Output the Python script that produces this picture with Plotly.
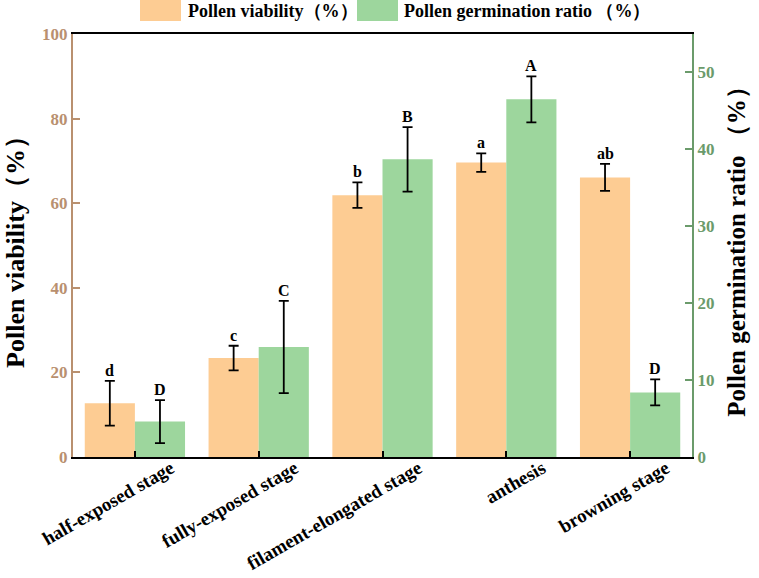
import plotly.graph_objects as go

categories = ["half-exposed stage", "fully-exposed stage", "filament-elongated stage", "anthesis", "browning stage"]
viability = [12.7, 23.4, 61.9, 69.6, 66.1]
viability_err = [5.3, 2.9, 3.0, 2.2, 3.2]
viability_letters = ["d", "c", "b", "a", "ab"]
germination = [4.6, 14.3, 38.7, 46.5, 8.4]
germination_err = [2.8, 6.0, 4.2, 3.0, 1.7]
germination_letters = ["D", "C", "B", "A", "D"]

ORANGE = "#fdcc93"
GREEN = "#9dd69d"
BROWN = "#b9906f"
DGREEN = "#6b9b6b"
FONT = "Liberation Serif"

W, H = 759, 578
L, R, T, B = 73, 67, 34, 121
PW, PH = W - L - R, H - T - B

def px(x):
    return (x - L) / PW

def py(y):
    return (H - B - y) / PH

fig = go.Figure()
fig.add_trace(go.Bar(
    x=categories, y=viability, name="Pollen viability（%）",
    marker=dict(color=ORANGE, line=dict(width=0)),
    width=0.405, offset=-0.405,
    error_y=dict(type="data", array=viability_err, color="black", thickness=1.8, width=5),
    yaxis="y", showlegend=False,
))
fig.add_trace(go.Bar(
    x=categories, y=germination, name="Pollen germination ratio （%）",
    marker=dict(color=GREEN, line=dict(width=0)),
    width=0.405, offset=0,
    error_y=dict(type="data", array=germination_err, color="black", thickness=1.8, width=5),
    yaxis="y2", showlegend=False,
))

annotations = []
for c, v, e, t in zip(categories, viability, viability_err, viability_letters):
    annotations.append(dict(x=c, y=v + e, xref="x", yref="y", text=f"<b>{t}</b>",
                            showarrow=False, xshift=-25, yanchor="bottom", yshift=0,
                            font=dict(family=FONT, size=16, color="black")))
for c, v, e, t in zip(categories, germination, germination_err, germination_letters):
    annotations.append(dict(x=c, y=v + e, xref="x", yref="y2", text=f"<b>{t}</b>",
                            showarrow=False, xshift=25, yanchor="bottom", yshift=0,
                            font=dict(family=FONT, size=16, color="black")))

# legend drawn manually (wide swatches like the reference)
shapes = [
    dict(type="rect", xref="paper", yref="paper", x0=px(140), x1=px(181), y0=py(21), y1=py(0),
         fillcolor=ORANGE, line=dict(width=0)),
    dict(type="rect", xref="paper", yref="paper", x0=px(357), x1=px(398), y0=py(21), y1=py(0),
         fillcolor=GREEN, line=dict(width=0)),
]
annotations.append(dict(x=px(186), y=py(11), xref="paper", yref="paper", xanchor="left", yanchor="middle",
                        text="<b>Pollen viability（%）</b>", showarrow=False,
                        font=dict(family=FONT, size=18, color="black")))
annotations.append(dict(x=px(402), y=py(11), xref="paper", yref="paper", xanchor="left", yanchor="middle",
                        text="<b>Pollen germination ratio （%）</b>", showarrow=False,
                        font=dict(family=FONT, size=18, color="black")))

fig.update_layout(
    width=W, height=H,
    margin=dict(l=L, r=R, t=T, b=B),
    paper_bgcolor="white", plot_bgcolor="white",
    barmode="overlay",
    font=dict(family=FONT, color="black"),
    xaxis=dict(
        type="category", range=[-0.5, 4.5], automargin=False,
        showline=True, linecolor="black", linewidth=2, mirror=True,
        ticks="inside", ticklen=6, tickcolor="black", tickwidth=2,
        tickangle=-30, ticklabelshift=36, ticklabelstandoff=-9,
        tickfont=dict(family=FONT, size=19, color="black", weight="bold"),
        showgrid=False, zeroline=False,
    ),
    yaxis=dict(
        range=[0, 100], tickvals=[0, 20, 40, 60, 80, 100], automargin=False,
        showline=True, linecolor=BROWN, linewidth=2,
        ticks="inside", ticklen=7, tickcolor=BROWN, tickwidth=2,
        tickfont=dict(family=FONT, size=17, color=BROWN, weight="bold"),
        title=dict(text="<b>Pollen viability（%）</b>", font=dict(family=FONT, size=26, color="black"), standoff=10),
        showgrid=False, zeroline=False,
    ),
    yaxis2=dict(
        overlaying="y", side="right", anchor="x", automargin=False,
        range=[0, 55], tickvals=[0, 10, 20, 30, 40, 50],
        showline=True, linecolor=DGREEN, linewidth=2,
        ticks="inside", ticklen=7, tickcolor=DGREEN, tickwidth=2,
        tickfont=dict(family=FONT, size=17, color=DGREEN, weight="bold"),
        title=dict(text="<b>Pollen germination ratio （%）</b>", font=dict(family=FONT, size=25, color="black"), standoff=14),
        showgrid=False, zeroline=False,
    ),
    shapes=shapes,
    annotations=annotations,
)

fig.write_html("out.html")
